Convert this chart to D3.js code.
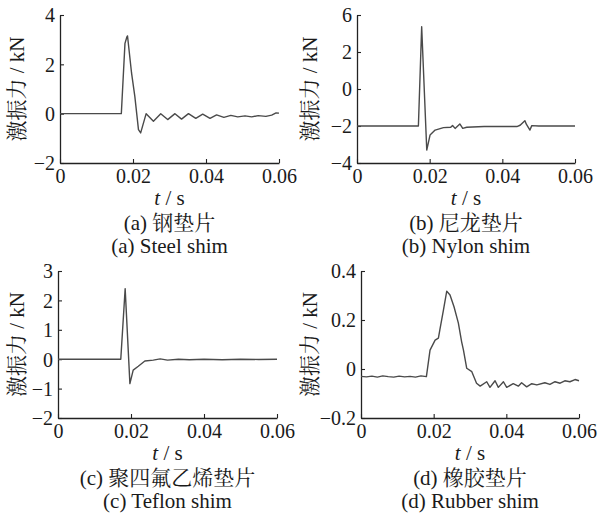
<!DOCTYPE html>
<html>
<head>
<meta charset="utf-8">
<script src="https://cdn.jsdelivr.net/npm/d3@7"></script>
<style>
  body { margin: 0; background: #fff; }
  text { font-family: "Times New Roman", "Liberation Serif", "Noto Serif CJK SC", "Noto Sans CJK SC", serif; fill: #1a1a1a; }
</style>
</head>
<body>
<div id="chart"></div>
<script>
// data (time in s, force in kN)
var tSteel = [0, 0.0168, 0.0178, 0.0183, 0.0185, 0.0196, 0.0205, 0.0215, 0.0221, 0.0236, 0.0256, 0.0276, 0.0295, 0.0315,
  0.0333, 0.0352, 0.0372, 0.0391, 0.0411, 0.0429, 0.0449, 0.0468, 0.0487, 0.0507, 0.0525, 0.0543, 0.0564, 0.058, 0.0592, 0.06];
var vSteel = [0, 0, 2.85, 3.1, 3.15, 1.65, 0.7, -0.65, -0.78, 0, -0.31, 0, -0.24, 0,
  -0.22, 0, -0.19, -0.02, -0.19, -0.05, -0.15, -0.07, -0.13, -0.09, -0.13, -0.08, -0.11, -0.06, 0.03, 0.02];

var tNylon = [0, 0.0169, 0.0178, 0.0192, 0.0201, 0.0215, 0.0238, 0.0258, 0.0263, 0.027, 0.0283, 0.0291, 0.0302, 0.035,
  0.044, 0.0449, 0.0462, 0.0466, 0.0476, 0.0481, 0.05, 0.06];
var vNylon = [-2, -2, 3.37, -3.3, -2.49, -2.22, -2.09, -2.07, -1.97, -2.13, -1.89, -2.13, -2.07, -2.03,
  -2.03, -1.96, -1.71, -1.9, -2.22, -1.98, -2, -2];

var tTeflon = [0, 0.0172, 0.0184, 0.0197, 0.0206, 0.022, 0.0238, 0.0261, 0.028, 0.03, 0.033, 0.036, 0.04, 0.045, 0.05, 0.055, 0.06];
var vTeflon = [0, 0, 2.4, -0.83, -0.37, -0.24, -0.06, -0.03, 0.01, -0.03, 0.0, -0.02, 0.0, -0.02, 0.0, -0.01, 0];

var tRubber = [0, 0.0015, 0.003, 0.0045, 0.006, 0.0075, 0.009, 0.0105, 0.012, 0.0135, 0.015, 0.0165, 0.018,
  0.019, 0.0204, 0.0213, 0.0217, 0.0227, 0.0236, 0.0245, 0.0256, 0.0268, 0.0277, 0.0282, 0.0291, 0.0305, 0.0318, 0.0328,
  0.0346, 0.0355, 0.0369, 0.0378, 0.0392, 0.0401, 0.0419, 0.0433, 0.0442, 0.0456, 0.047, 0.0484, 0.0506, 0.052,
  0.0534, 0.0548, 0.0561, 0.0575, 0.0589, 0.06];
var vRubber = [-0.03, -0.032, -0.029, -0.033, -0.028, -0.031, -0.033, -0.029, -0.032, -0.03, -0.033, -0.028, -0.031,
  0.077, 0.118, 0.126, 0.16, 0.241, 0.318, 0.302, 0.254, 0.187, 0.111, 0.077, 0.003, -0.011, -0.058, -0.07,
  -0.052, -0.075, -0.048, -0.075, -0.052, -0.075, -0.06, -0.07, -0.056, -0.073, -0.06, -0.065, -0.056, -0.063,
  -0.052, -0.058, -0.048, -0.052, -0.043, -0.048];

var xTicks = [0, 0.02, 0.04, 0.06];
var xTickLabels = ["0", "0.02", "0.04", "0.06"];
var yTicksSteel = [-2, 0, 2, 4];
var yLabelsSteel = ["−2", "0", "2", "4"];
var yTicksNylon = [-4, -2, 0, 2, 4];
var yLabelsNylon = ["−4", "−2", "0", "2", "6"];
var yTicksTeflon = [-2, -1, 0, 1, 2, 3];
var yLabelsTeflon = ["−2", "−1", "0", "1", "2", "3"];
var yTicksRubber = [-0.2, 0, 0.2, 0.4];
var yLabelsRubber = ["−0.2", "0", "0.2", "0.4"];

var captionsCn = ["(a) 钢垫片", "(b) 尼龙垫片", "(c) 聚四氟乙烯垫片", "(d) 橡胶垫片"];
var captionsEn = ["(a) Steel shim", "(b) Nylon shim", "(c) Teflon shim", "(d) Rubber shim"];

var width = 605, height = 521;

var svg = d3.select("#chart").append("svg")
    .attr("width", width)
    .attr("height", height);

// panel boxes in pixels: left, right, top, bottom; lx = y-label x
var panels = [
  {t: tSteel, v: vSteel, yt: yTicksSteel, yl: yLabelsSteel, box: [60, 279, 15, 163], lx: 24},
  {t: tNylon, v: vNylon, yt: yTicksNylon, yl: yLabelsNylon, box: [357, 575, 15, 163], lx: 317},
  {t: tTeflon, v: vTeflon, yt: yTicksTeflon, yl: yLabelsTeflon, box: [58, 277, 271, 418], lx: 24},
  {t: tRubber, v: vRubber, yt: yTicksRubber, yl: yLabelsRubber, box: [361, 579, 271, 418], lx: 317}
];

panels.forEach(function(p, i) {
  var b = p.box;
  var x = d3.scaleLinear().domain([0, 0.06]).range([b[0], b[1]]);
  var y = d3.scaleLinear().domain(d3.extent(p.yt)).range([b[3], b[2]]);
  var g = svg.append("g");

  // bottom axis, ticks pointing inward
  var xa = g.append("g")
      .attr("transform", "translate(0," + b[3] + ")")
      .call(d3.axisBottom(x).tickValues(xTicks).tickSize(-4).tickSizeOuter(0)
        .tickFormat(function(d, k) { return xTickLabels[k]; }));
  xa.select(".domain").attr("stroke", "#222").attr("stroke-width", 1.3);
  xa.selectAll(".tick line").attr("stroke", "#222").attr("stroke-width", 1.1);
  xa.selectAll(".tick text").attr("y", 20).attr("dy", 0)
      .style("font-size", "20px").attr("fill", "#1a1a1a");

  var ya = g.append("g")
      .attr("transform", "translate(" + b[0] + ",0)")
      .call(d3.axisLeft(y).tickValues(p.yt).tickSize(-4).tickSizeOuter(0)
        .tickFormat(function(d, k) { return p.yl[k]; }));
  ya.select(".domain").attr("stroke", "#222").attr("stroke-width", 1.3);
  ya.selectAll(".tick line").attr("stroke", "#222").attr("stroke-width", 1.1);
  ya.selectAll(".tick text").attr("x", -5).attr("dy", "0.34em")
      .style("font-size", "20px").attr("fill", "#1a1a1a");

  var line = d3.line()
      .x(function(d) { return x(d[0]); })
      .y(function(d) { return y(d[1]); });

  g.append("path")
      .datum(d3.zip(p.t, p.v))
      .attr("fill", "none")
      .attr("stroke", "#4a4a4a")
      .attr("stroke-width", 1.4)
      .attr("stroke-linejoin", "round")
      .attr("d", line);

  var cx = (b[0] + b[1]) / 2;

  var xt = g.append("text")
      .attr("x", cx).attr("y", b[3] + 42)
      .attr("text-anchor", "middle")
      .style("font-size", "21px");
  xt.append("tspan").style("font-style", "italic").text("t");
  xt.append("tspan").text(" / s");

  g.append("text")
      .attr("transform", "translate(" + p.lx + "," + ((b[2] + b[3]) / 2) + ") rotate(-90)")
      .attr("text-anchor", "middle")
      .style("font-size", "21px")
      .text("激振力 / kN");

  g.append("text")
      .attr("x", cx).attr("y", b[3] + 67)
      .attr("text-anchor", "middle")
      .style("font-size", "21px")
      .text(captionsCn[i]);

  g.append("text")
      .attr("x", cx).attr("y", b[3] + 90)
      .attr("text-anchor", "middle")
      .style("font-size", "21px")
      .text(captionsEn[i]);
});
</script>
</body>
</html>
